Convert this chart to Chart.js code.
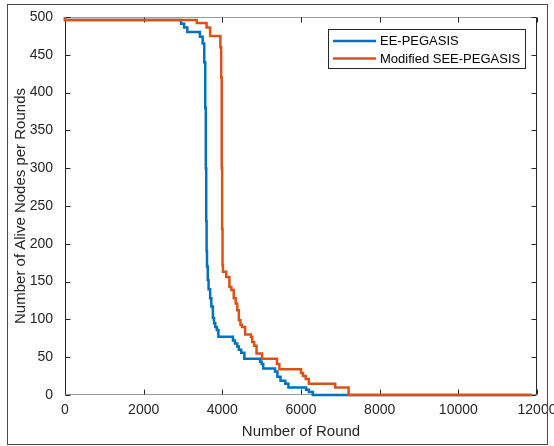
<!DOCTYPE html>
<html>
<head>
<meta charset="utf-8">
<script src="https://cdn.jsdelivr.net/npm/chart.js@4/dist/chart.umd.min.js"></script>
<style>
  body { margin: 0; background: #fff; }
  #wrap { width: 554px; height: 446px; position: relative; }
</style>
</head>
<body>
<div id="wrap"><canvas id="chart1"></canvas></div>
<script>
// Datos (escalones: desde la ronda x el valor pasa a y)
const seriesNames = ['EE-PEGASIS', 'Modified SEE-PEGASIS'];

const eeRounds = [0, 2950, 3030, 3110, 3430, 3500, 3540, 3565, 3580, 3590, 3600, 3610, 3630, 3650, 3690, 3720, 3760, 3790, 3820, 3860, 3900,
  4270, 4320, 4380, 4420, 4480, 4560, 4960, 5000, 5040, 5340, 5400, 5480, 5600, 5680, 6130, 6200, 6300, 6460, 11860];
const eeAlive = [500, 496, 491, 486, 480, 474, 465, 440, 380, 300, 230, 190, 170, 152, 140, 128, 117, 102, 95, 90, 86,
  77, 72, 68, 64, 60, 56, 48, 44, 41, 35, 31, 24, 19, 15, 10, 7, 4, 0, 0];

const seeRounds = [0, 3350, 3600, 3690, 3950, 3970, 3985, 3995, 4005, 4015, 4100, 4180, 4230, 4290, 4340, 4380, 4420, 4460, 4500, 4580,
  4725, 4760, 4810, 4870, 5010, 5390, 5450, 6000, 6050, 6120, 6200, 6870, 7210, 7330, 11860];
const seeAlive = [500, 496, 492, 486, 475, 460, 420, 300, 220, 172, 163, 156, 143, 139, 128, 121, 112, 99, 93, 90,
  80, 77, 70, 65, 55, 48, 41, 34, 29, 25, 21, 15, 10, 0, 0];

const xTicks = [0, 2000, 4000, 6000, 8000, 10000, 12000];
const yTicks = [0, 50, 100, 150, 200, 250, 300, 350, 400, 450, 500];

const FONT = '"Liberation Sans", Arial, sans-serif';
const TXT = '#262626';

function pts(xs, ys) {
  return xs.map((x, i) => ({ x: x, y: ys[i] }));
}

// Caja estilo MATLAB, ticks hacia dentro, marco exterior y leyenda
const matlabBox = {
  id: 'matlabBox',
  beforeDatasetsDraw(chart) {
    const { ctx, chartArea: a, scales: { x, y } } = chart;
    ctx.save();
    ctx.lineWidth = 1;
    // marco exterior
    ctx.strokeStyle = '#4a4a4a';
    ctx.strokeRect(7.5, 4.5, 540, 440);
    // caja de ejes
    const L = Math.round(a.left) + 0.5, R = Math.round(a.right) - 0.5;
    const T = Math.round(a.top) + 0.5, B = Math.round(a.bottom) - 0.5;
    ctx.strokeStyle = '#9a9a9a';
    ctx.beginPath();
    ctx.moveTo(L, T); ctx.lineTo(R, T);
    ctx.moveTo(L, B); ctx.lineTo(R, B);
    ctx.stroke();
    ctx.strokeStyle = TXT;
    ctx.beginPath();
    ctx.moveTo(L, T); ctx.lineTo(L, B);
    ctx.moveTo(R, T); ctx.lineTo(R, B);
    const len = 5;
    xTicks.forEach(v => {
      const px = Math.round(x.getPixelForValue(v)) + 0.5;
      ctx.moveTo(px, B); ctx.lineTo(px, B - len);
      ctx.moveTo(px, T); ctx.lineTo(px, T + len);
    });
    yTicks.forEach(v => {
      const py = Math.round(y.getPixelForValue(v)) + 0.5;
      ctx.moveTo(L, py); ctx.lineTo(L + len, py);
      ctx.moveTo(R, py); ctx.lineTo(R - len, py);
    });
    ctx.stroke();
    ctx.restore();
  },
  afterDatasetsDraw(chart) {
    const { ctx } = chart;
    ctx.save();
    ctx.fillStyle = '#fff';
    ctx.fillRect(328.5, 29.5, 197, 39);
    ctx.strokeStyle = TXT;
    ctx.lineWidth = 1;
    ctx.strokeRect(328.5, 29.5, 197, 39);
    ctx.font = '13px ' + FONT;
    ctx.textBaseline = 'middle';
    ctx.textAlign = 'left';
    const rows = [41, 58.5];
    chart.data.datasets.forEach((ds, i) => {
      ctx.strokeStyle = ds.borderColor;
      ctx.lineWidth = 2.5;
      ctx.beginPath();
      ctx.moveTo(333, rows[i]);
      ctx.lineTo(376, rows[i]);
      ctx.stroke();
      ctx.fillStyle = '#000';
      ctx.fillText(ds.label, 380, rows[i] + 0.5);
    });
    ctx.restore();
  }
};

const config1 = {
  type: 'line',
  data: {
    datasets: [{
      label: seriesNames[0],
      data: pts(eeRounds, eeAlive),
      borderColor: '#0072BD',
      borderWidth: 2.5,
      stepped: 'after',
      pointRadius: 0,
      fill: false,
      clip: false,
      order: 2, // debajo de la naranja
    }, {
      label: seriesNames[1],
      data: pts(seeRounds, seeAlive),
      borderColor: '#D95319',
      borderWidth: 2.5,
      stepped: 'after',
      pointRadius: 0,
      fill: false,
      clip: false,
      order: 1,
    }],
  },
  options: {
    responsive: true,
    maintainAspectRatio: false,
    animation: false,
    layout: { padding: { left: 8, right: 17, top: 17, bottom: 0 } },
    plugins: {
      legend: { display: false },
      tooltip: { enabled: false },
    },
    scales: {
      x: {
        type: 'linear',
        min: 0,
        max: 12000,
        grid: { display: false, drawTicks: false },
        border: { display: false },
        afterBuildTicks: s => { s.ticks = xTicks.map(v => ({ value: v })); },
        ticks: {
          padding: 7,
          maxRotation: 0,
          autoSkip: false,
          color: TXT,
          font: { family: FONT, size: 14 },
          callback: v => String(v),
        },
        title: {
          display: true,
          text: 'Number of Round',
          color: TXT,
          font: { family: FONT, size: 15 },
          padding: { top: 0, bottom: 5 },
        },
        afterFit: s => { s.height = 51; s.paddingLeft = 0; s.paddingRight = 0; },
      },
      y: {
        min: 0,
        max: 500,
        grid: { display: false, drawTicks: false },
        border: { display: false },
        afterBuildTicks: s => { s.ticks = yTicks.map(v => ({ value: v })); },
        ticks: {
          padding: 12,
          autoSkip: false,
          color: TXT,
          font: { family: FONT, size: 14 },
          callback: v => String(v),
        },
        title: {
          display: true,
          text: 'Number of Alive Nodes per Rounds',
          color: TXT,
          font: { family: FONT, size: 15 },
          padding: { top: 4, bottom: 0 },
        },
        afterFit: s => { s.width = 57; s.paddingTop = 0; s.paddingBottom = 0; },
      },
    },
  },
  plugins: [matlabBox],
};

new Chart(document.getElementById('chart1'), config1);
</script>
</body>
</html>
